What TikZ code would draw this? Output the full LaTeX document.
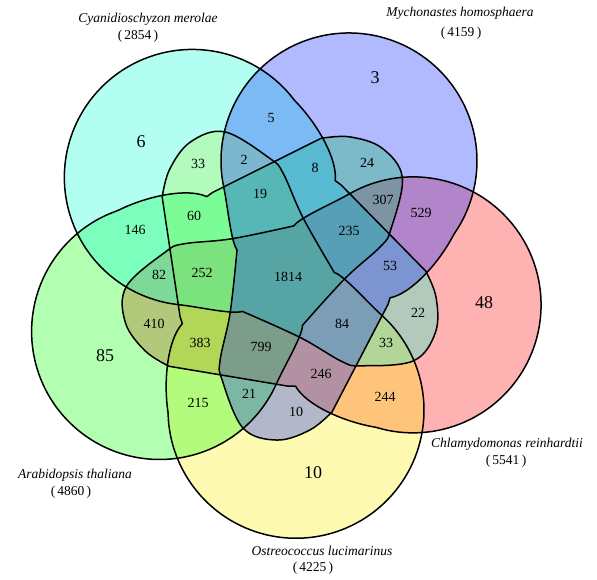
\documentclass[tikz,border=0pt]{standalone}
\usepackage{fontspec}
\setmainfont{Liberation Serif}

\definecolor{redC}{RGB}{255,0,0}
\definecolor{yellowC}{RGB}{255,240,0}
\definecolor{greenC}{RGB}{0,255,0}
\definecolor{cyanC}{RGB}{0,255,213}
\definecolor{blueC}{RGB}{0,26,255}

\tikzset{
  setfill/.style={fill=#1, fill opacity=0.3},
  setline/.style={draw=black, line width=1.5pt, line join=round},
  cnt/.style={font=\fontsize{14}{14}\selectfont, inner sep=0pt},
  bigcnt/.style={font=\fontsize{18}{18}\selectfont, inner sep=0pt},
  setname/.style={font=\fontsize{13.5}{16}\selectfont\itshape, inner sep=0pt},
  setsize/.style={font=\fontsize{13.5}{16}\selectfont, inner sep=0pt},
}

% one set: circle on top, lobe through the middle (local frame)
\newcommand\petal{%
  plot[domain=-5:222, samples=46, smooth] ({128*cos(\x)},{134+128*sin(\x)})
  .. controls (-83,35) and (-62,5) .. (-52.5,1)
  -- plot[smooth, tension=0.6] coordinates {(-52.5,1) (-27,-57) (-12,-103) (-0.5,-119)
       (41.7,-150.3) (77.2,-143.7) (100.7,-118.5) (110.8,-91.9)}
  -- (105.5,29) -- (104,36)
  .. controls (120,50) and (129,90) .. (127.5,122.8) -- cycle}

\begin{document}
\begin{tikzpicture}[x=1pt,y=1pt]
\useasboundingbox (0,0) rectangle (597,-580);
%% fills
\fill[setfill=redC, shift={(282,-277)}, rotate=258] \petal;
\fill[setfill=yellowC, shift={(282,-277)}, rotate=186] \petal;
\fill[setfill=greenC, shift={(282,-277)}, rotate=114] \petal;
\fill[setfill=cyanC, shift={(282,-277)}, rotate=42] \petal;
\fill[setfill=blueC, shift={(282,-277)}, rotate=-30] \petal;
%% outlines
\draw[setline, shift={(282,-277)}, rotate=258] \petal;
\draw[setline, shift={(282,-277)}, rotate=186] \petal;
\draw[setline, shift={(282,-277)}, rotate=114] \petal;
\draw[setline, shift={(282,-277)}, rotate=42] \petal;
\draw[setline, shift={(282,-277)}, rotate=-30] \petal;
%% counts
\foreach \px/\py/\t [count=\i] in {141/142/6, 375/78/3, 484/303/48, 313/473/10, 105/356/85}
  \node[bigcnt] (big\i) at (\px,-\py) {\t};
\foreach \px/\py/\t [count=\i] in {271/118/5, 198/164/33, 244/160/2, 260/194/19, 135/230/146,
    194/216/60, 159/275/82, 202/273/252, 288/277/1814, 315/168/8, 367/163/24, 383/200/307,
    421/213/529, 349/231/235, 390/266/53, 418/313/22, 342/324/84, 386/343/33, 321/374/246,
    385/397/244, 154/324/410, 200/343/383, 261/347/799, 198/403/215, 249/394/21, 296/412/10}
  \node[cnt] (c\i) at (\px,-\py) {\t};
%% set names
\node[setname] (nameC) at (148,-19) {Cyanidioschyzon merolae};
\node[setsize] (sizeC) at (138,-36) {(\,2854\,)};
\node[setname] (nameB) at (460,-13) {Mychonastes homosphaera};
\node[setsize] (sizeB) at (461,-33) {(\,4159\,)};
\node[setname] (nameR) at (507,-444) {Chlamydomonas reinhardtii};
\node[setsize] (sizeR) at (506,-461) {(\,5541\,)};
\node[setname] (nameY) at (322,-551) {Ostreococcus lucimarinus};
\node[setsize] (sizeY) at (313,-568) {(\,4225\,)};
\node[setname] (nameG) at (75,-475) {Arabidopsis thaliana};
\node[setsize] (sizeG) at (71,-492) {(\,4860\,)};
\end{tikzpicture}
\end{document}
